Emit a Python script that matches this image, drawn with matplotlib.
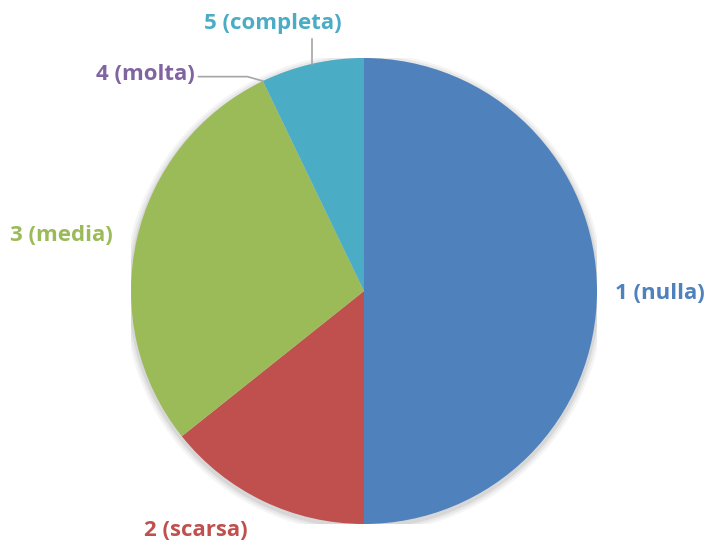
import numpy as np
import matplotlib.pyplot as plt
from matplotlib.patches import Circle

# Dati
#--------------------------------------
labels  = ['1 (nulla)', '2 (scarsa)', '3 (media)', '4 (molta)', '5 (completa)']
values  = [7, 2, 4, 0, 1]
colors  = ['#4F81BD', '#C0504D', '#9BBB59', '#8064A2', '#4BACC6']
#--------------------------------------

W, H = 710, 543
cx, cy, R = 364, 291, 233

fig = plt.figure(figsize=(W/100, H/100), dpi=100)
ax = fig.add_axes([(cx-R)/W, (H-cy-R)/H, 2*R/W, 2*R/H])

# ombra leggera
for k, a in zip([1.03, 1.02, 1.01], [0.04, 0.05, 0.07]):
    ax.add_patch(Circle((0.0, -0.01), k, color='black', alpha=a, lw=0, zorder=0))

wedges, _ = ax.pie(values, colors=colors, startangle=90, counterclock=False,
                   radius=1.0, wedgeprops=dict(linewidth=0))
for w in wedges:
    w.set_zorder(2)

ax.set_xlim(-1, 1)
ax.set_ylim(-1, 1)
ax.set_aspect('equal')
ax.axis('off')

# etichette
font = dict(family=['Open Sans', 'DejaVu Sans'], fontweight='bold', fontsize=16,
            clip_on=False, ha='center', va='center')
pos = [(1.27, -0.01), (-0.72, -1.03), (-1.30, 0.24), (-0.94, 0.93), (-0.39, 1.15)]
for lab, col, (x, y) in zip(labels, colors, pos):
    ax.text(x, y, lab, color=col, **font)

# linee guida per 4 e 5
total = float(sum(values))
cum = np.cumsum([0] + values) / total
ang4 = 90 - 360*cum[3]
ang5 = 90 - 360*(cum[4] + cum[5]) / 2
e4 = (np.cos(np.radians(ang4)), np.sin(np.radians(ang4)))
e5 = (np.cos(np.radians(ang5)), np.sin(np.radians(ang5)))
ax.plot([-0.71, -0.50, e4[0]], [0.92, 0.92, e4[1]], color='#A6A6A6', lw=1.2, clip_on=False, zorder=3)
ax.plot([e5[0], e5[0]], [e5[1], 1.08], color='#A6A6A6', lw=1.2, clip_on=False, zorder=3)

fig.savefig('out.png', dpi=100)
